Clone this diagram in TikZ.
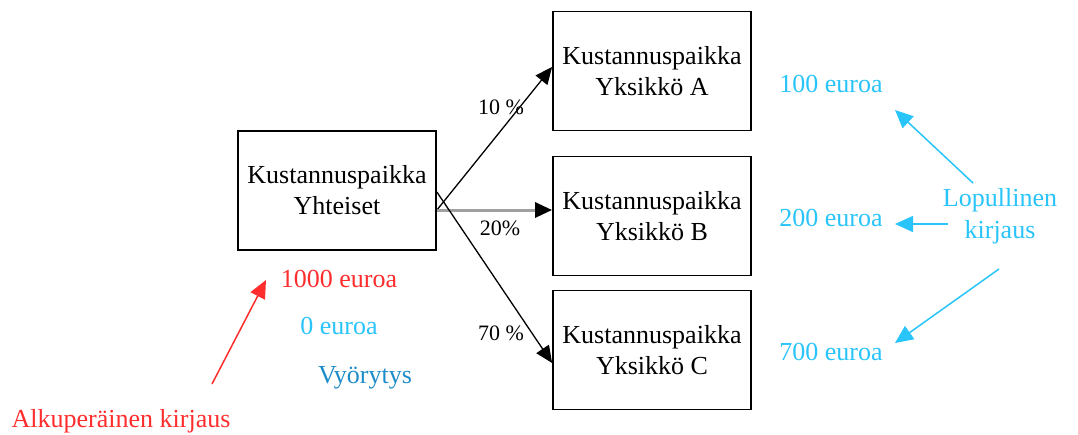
\documentclass[tikz,border=0pt]{standalone}
\usepackage{fontspec}
\setmainfont{Liberation Serif}
\usetikzlibrary{arrows.meta}
\definecolor{cyanblue}{RGB}{40,196,250}
\definecolor{vblue}{RGB}{30,140,200}
\definecolor{myred}{RGB}{255,45,45}
\definecolor{midgray}{RGB}{160,160,160}
\tikzset{
  box/.style={draw=black, line width=1.8pt, minimum width=198pt, minimum height=119pt,
    align=center, font=\fontsize{26}{31}\selectfont, inner sep=0pt},
  lbl/.style={font=\fontsize{26}{32}\selectfont, inner sep=0pt, align=center},
  pct/.style={font=\fontsize{22}{26}\selectfont, inner sep=0pt},
  blk/.style={draw=black, line width=1.3pt, -{Triangle[length=17pt,width=15pt]}},
  gry/.style={draw=midgray, line width=3pt, -{Triangle[length=17pt,width=15pt,color=black]}},
  carr/.style={draw=cyanblue, line width=1.5pt, -{Triangle[length=18pt,width=16pt]}},
  rarr/.style={draw=myred, line width=1.5pt, -{Triangle[length=18pt,width=16pt]}}
}
\begin{document}
\begin{tikzpicture}[x=1pt,y=-1pt]
\useasboundingbox (0,0) rectangle (1078,434);
\node[box] (Y) at (337,190.5) {Kustannuspaikka\\Yhteiset};
\node[box] (A) at (652,71) {Kustannuspaikka\\Yksikkö A};
\node[box] (B) at (652,216) {Kustannuspaikka\\Yksikkö B};
\node[box] (C) at (652,350) {Kustannuspaikka\\Yksikkö C};

\draw[blk] ([yshift=-19.5pt]Y.east) -- ([yshift=4pt]A.west);
\draw[gry] ([yshift=-19.5pt]Y.east) -- ([yshift=6pt]B.west);
\draw[blk] ([yshift=-1.5pt]Y.east) -- ([yshift=-13pt]C.west);

\node[pct] (p10) at (501,107) {10 \%};
\node[pct] (p20) at (500,228) {20\%};
\node[pct] (p70) at (501,333) {70 \%};

\node[lbl, text=cyanblue] (e100) at (831,84) {100 euroa};
\node[lbl, text=cyanblue] (e200) at (831,218) {200 euroa};
\node[lbl, text=cyanblue] (e700) at (831,352) {700 euroa};
\node[lbl, text=cyanblue] (lop) at (1000,216) {Lopullinen\\kirjaus};

\coordinate (s1) at (973,183);
\coordinate (s2) at (948,224);
\coordinate (s3) at (999,269);
\coordinate (t1) at (895,110);
\coordinate (t2) at (895,224);
\coordinate (t3) at (895,343);
\draw[carr] (s1) -- (t1);
\draw[carr] (s2) -- (t2);
\draw[carr] (s3) -- (t3);

\node[lbl, text=myred] (e1000) at (339,279) {1000 euroa};
\node[lbl, text=cyanblue] (e0) at (339,326) {0 euroa};
\node[lbl, text=vblue] (vyo) at (365,378) {Vyörytys};
\node[lbl, text=myred] (alk) at (121,421) {Alkuperäinen kirjaus};

\coordinate (rt) at (266,280);
\coordinate (rs) at (212,384);
\draw[rarr] (rs) -- (rt);
\end{tikzpicture}
\end{document}
